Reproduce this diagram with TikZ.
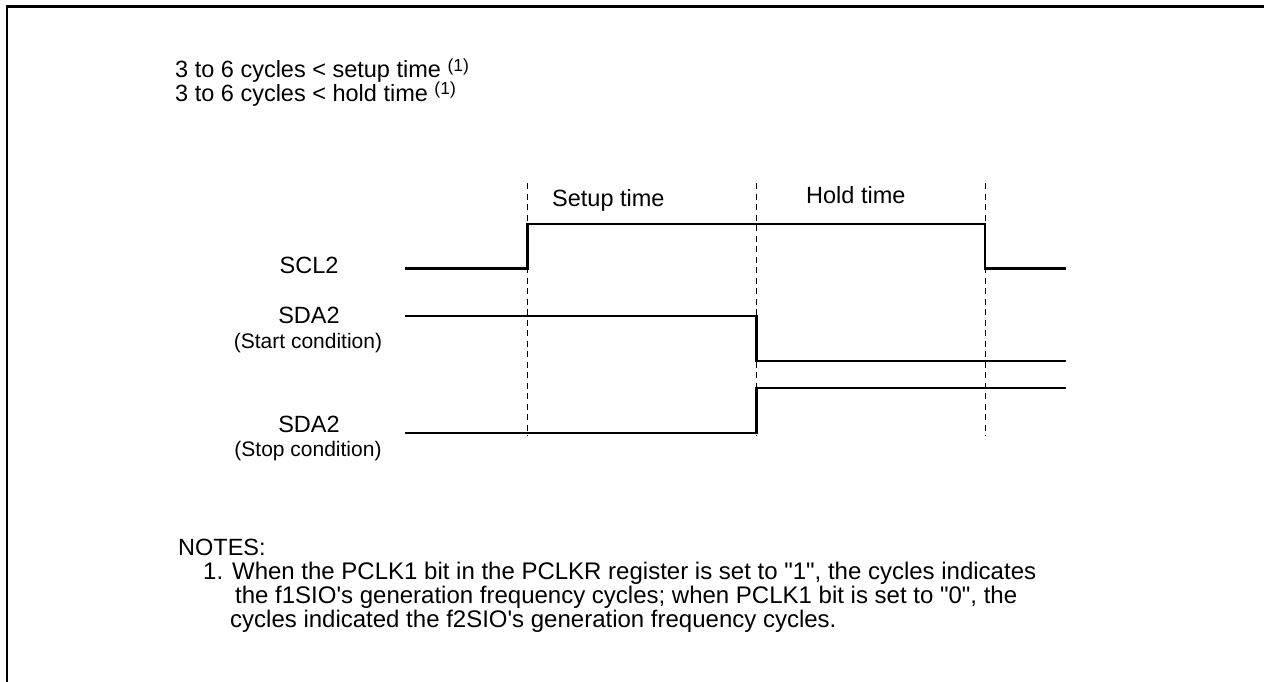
\documentclass[tikz,border=0pt]{standalone}
\usepackage{fontspec}
\setmainfont{Liberation Sans}[Ligatures=TeXOff]
\begin{document}
\begin{tikzpicture}[x=1pt,y=-1pt,
  lbl/.style={inner sep=0pt, font=\fontsize{23.5}{28}\selectfont},
  sublbl/.style={inner sep=0pt, font=\fontsize{21}{25}\selectfont},
  note/.style={inner sep=0pt, anchor=base west, font=\fontsize{23.5}{28}\selectfont},
  notetext/.style={inner sep=0pt, anchor=base west, font=\fontsize{24}{28}\selectfont},
  sig/.style={line width=2.2pt},
  guide/.style={line width=1pt, dash pattern=on 6pt off 4.5pt},
  frame/.style={line width=2.5pt}]
\useasboundingbox (0,0) rectangle (1264,682);
% frame (only top and left edges visible)
\draw[frame] (7,682) -- (7,6.5) -- (1264,6.5);
% header text
\node[note] (h1) at (175,78) {3 to 6 cycles < setup time \raisebox{6.6pt}{\fontsize{17.5}{18}\selectfont (1)}};
\node[note] (h2) at (175,101.5) {3 to 6 cycles < hold time \raisebox{6.6pt}{\fontsize{17.5}{18}\selectfont (1)}};
% guide lines
\coordinate (g1t) at (527.5,183); \coordinate (g1b) at (527.5,436);
\coordinate (g2t) at (756.5,183); \coordinate (g2b) at (756.5,436);
\coordinate (g3t) at (985,183);   \coordinate (g3b) at (985,436);
\draw[guide] (g1t) -- (g1b);
\draw[guide] (g2t) -- (g2b);
\draw[guide] (g3t) -- (g3b);
\node[note] (setup) at (552,206.5) {Setup time};
\node[note] (hold) at (806,203) {Hold time};
% signal labels
\node[lbl, anchor=base] (scl) at (309,273) {SCL2};
\node[lbl, anchor=base] (sdaA) at (309,323) {SDA2};
\node[sublbl, anchor=base] (sdaAs) at (308,348) {(Start condition)};
\node[lbl, anchor=base] (sdaB) at (309,432) {SDA2};
\node[sublbl, anchor=base] (sdaBs) at (308,456) {(Stop condition)};
% waveforms
\draw[sig] (405,268.5) -- (527.5,268.5) -- (527.5,224) -- (985,224) -- (985,268.5) -- (1066,268.5);
\draw[sig] (405,316) -- (756.5,316) -- (756.5,361) -- (1066,361);
\draw[sig] (405,433) -- (756.5,433) -- (756.5,388) -- (1066,388);
% notes
\node[note] (notes) at (178,555) {NOTES:};
\node[notetext] (n1) at (203,579) {1. When the PCLK1 bit in the PCLKR register is set to "1", the cycles indicates};
\node[notetext] (n2) at (235,603) {the f1SIO's generation frequency cycles; when PCLK1 bit is set to "0", the};
\node[notetext] (n3) at (230,627) {cycles indicated the f2SIO's generation frequency cycles.};
\end{tikzpicture}
\end{document}
